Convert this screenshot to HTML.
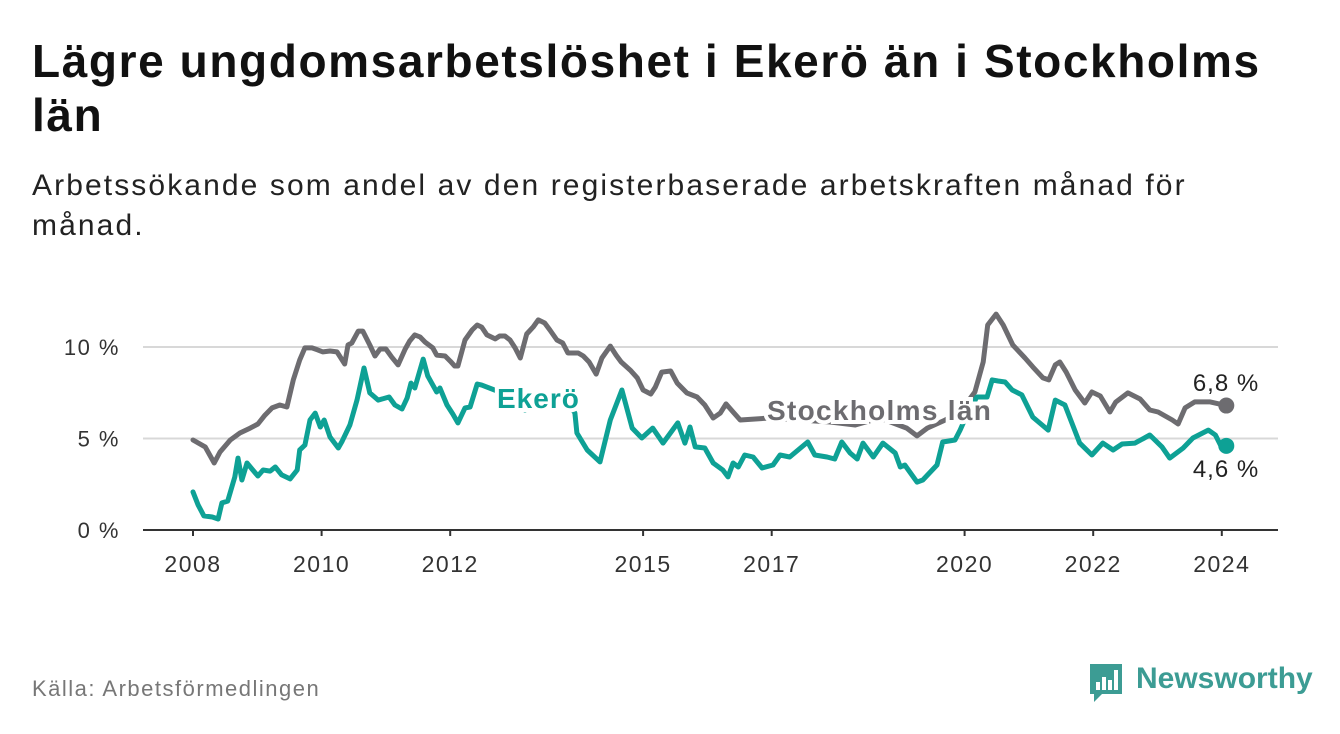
<!DOCTYPE html>
<html><head><meta charset="utf-8">
<style>
body{margin:0;background:#fff;width:1340px;height:734px;overflow:hidden;font-family:"Liberation Sans",sans-serif;}
h1{position:absolute;left:32px;top:34px;margin:0;font-size:46px;letter-spacing:1.6px;line-height:54px;font-weight:bold;color:#111;width:1300px;white-space:nowrap;}
.sub{position:absolute;left:32px;top:166px;font-size:30px;letter-spacing:2.1px;line-height:40px;color:#222;width:1300px;white-space:nowrap;}
.src{position:absolute;left:32px;top:676px;font-size:22px;letter-spacing:1.5px;color:#777;}
</style></head><body>
<h1>Lägre ungdomsarbetslöshet i Ekerö än i Stockholms<br>län</h1>
<div class="sub">Arbetssökande som andel av den registerbaserade arbetskraften månad för<br>månad.</div>
<svg id="chart" width="1340" height="734" style="position:absolute;left:0;top:0"></svg>
<div class="src">Källa: Arbetsförmedlingen</div>
<div style="position:absolute;left:1088px;top:662px;height:40px;">
<svg width="36" height="40" style="position:absolute;left:0;top:0"><path d="M2 2h32v30H14l-8 8v-8H2z" fill="#3c9c94"/><rect x="8" y="20" width="4" height="8" fill="#fff"/><rect x="14" y="15" width="4" height="13" fill="#fff"/><rect x="20" y="18" width="4" height="10" fill="#fff"/><rect x="26" y="8" width="4" height="20" fill="#fff"/></svg>
<span style="position:absolute;left:48px;top:0;font-size:30px;font-weight:bold;color:#3c9c94;white-space:nowrap">Newsworthy</span></div>
<script>
const stockYears=[2008.00,2008.19,2008.33,2008.42,2008.58,2008.73,2008.89,2009.01,2009.12,2009.23,2009.35,2009.46,2009.56,2009.66,2009.74,2009.85,2009.94,2010.02,2010.13,2010.24,2010.36,2010.41,2010.47,2010.57,2010.64,2010.75,2010.83,2010.91,2011.00,2011.09,2011.19,2011.30,2011.37,2011.45,2011.53,2011.61,2011.73,2011.79,2011.92,2012.00,2012.07,2012.12,2012.23,2012.34,2012.42,2012.49,2012.57,2012.70,2012.77,2012.85,2012.93,2013.01,2013.09,2013.19,2013.29,2013.37,2013.47,2013.55,2013.66,2013.75,2013.83,2013.99,2014.07,2014.16,2014.27,2014.36,2014.49,2014.58,2014.66,2014.80,2014.91,2015.00,2015.12,2015.19,2015.29,2015.43,2015.53,2015.68,2015.84,2015.96,2016.09,2016.20,2016.29,2016.40,2016.51,2016.97,2017.44,2017.91,2018.30,2018.68,2019.10,2019.26,2019.42,2019.70,2019.93,2020.16,2020.29,2020.36,2020.49,2020.60,2020.75,2020.94,2021.06,2021.22,2021.31,2021.41,2021.48,2021.58,2021.72,2021.87,2021.98,2022.11,2022.26,2022.35,2022.54,2022.73,2022.88,2023.01,2023.23,2023.32,2023.43,2023.58,2023.82,2024.07];
const stockValues=[4.92,4.54,3.66,4.26,4.92,5.30,5.57,5.79,6.28,6.67,6.83,6.72,8.20,9.29,9.95,9.95,9.84,9.73,9.78,9.73,9.07,10.11,10.22,10.87,10.87,10.11,9.51,9.89,9.89,9.45,9.02,9.89,10.33,10.66,10.55,10.27,9.95,9.56,9.51,9.23,8.96,8.96,10.38,10.93,11.20,11.09,10.66,10.44,10.60,10.60,10.38,9.95,9.40,10.71,11.09,11.48,11.31,10.93,10.38,10.22,9.67,9.67,9.51,9.18,8.52,9.40,10.05,9.56,9.18,8.74,8.31,7.65,7.43,7.81,8.63,8.69,8.03,7.49,7.27,6.83,6.12,6.39,6.89,6.45,6.01,6.12,6.01,5.90,5.74,6.12,5.57,5.14,5.57,6.01,6.45,7.54,9.18,11.20,11.80,11.20,10.11,9.40,8.91,8.31,8.20,9.02,9.18,8.63,7.65,6.94,7.54,7.32,6.45,6.99,7.49,7.16,6.56,6.45,6.01,5.79,6.67,7.00,7.00,6.8];
const ekeroYears=[2008.00,2008.08,2008.17,2008.30,2008.39,2008.45,2008.54,2008.65,2008.70,2008.76,2008.84,2008.93,2009.01,2009.09,2009.20,2009.28,2009.38,2009.51,2009.62,2009.66,2009.74,2009.82,2009.90,2009.98,2010.04,2010.13,2010.26,2010.32,2010.44,2010.55,2010.66,2010.75,2010.88,2011.05,2011.14,2011.25,2011.33,2011.39,2011.45,2011.58,2011.65,2011.79,2011.84,2011.95,2012.04,2012.12,2012.23,2012.31,2012.42,2012.49,2012.77,2013.16,2013.55,2013.86,2013.94,2013.97,2014.13,2014.33,2014.49,2014.67,2014.83,2014.98,2015.15,2015.31,2015.54,2015.65,2015.73,2015.81,2015.96,2016.09,2016.24,2016.32,2016.40,2016.48,2016.58,2016.71,2016.85,2017.02,2017.13,2017.28,2017.56,2017.67,2017.86,2017.98,2018.09,2018.22,2018.33,2018.42,2018.58,2018.73,2018.92,2019.00,2019.07,2019.26,2019.35,2019.57,2019.66,2019.85,2019.93,2019.98,2020.19,2020.35,2020.43,2020.52,2020.63,2020.74,2020.89,2021.06,2021.30,2021.41,2021.56,2021.79,2021.98,2022.15,2022.31,2022.45,2022.65,2022.88,2023.07,2023.19,2023.40,2023.55,2023.79,2023.90,2023.98,2024.07];
const ekeroValues=[2.08,1.37,0.77,0.71,0.60,1.48,1.58,2.90,3.93,2.73,3.66,3.28,2.95,3.28,3.22,3.44,3.01,2.79,3.28,4.37,4.64,6.01,6.39,5.63,6.01,5.08,4.48,4.86,5.74,7.10,8.85,7.49,7.10,7.27,6.83,6.61,7.21,8.03,7.76,9.34,8.42,7.54,7.76,6.83,6.34,5.85,6.67,6.72,7.98,7.92,7.54,6.56,7.10,6.83,6.39,5.30,4.37,3.72,6.01,7.65,5.57,5.03,5.57,4.75,5.85,4.75,5.63,4.54,4.48,3.66,3.28,2.90,3.66,3.44,4.10,3.99,3.39,3.55,4.10,3.99,4.81,4.10,3.99,3.88,4.81,4.21,3.88,4.75,3.99,4.75,4.21,3.44,3.55,2.62,2.73,3.55,4.81,4.92,5.46,5.85,7.27,7.27,8.20,8.14,8.09,7.65,7.38,6.17,5.46,7.10,6.83,4.75,4.10,4.75,4.37,4.70,4.75,5.19,4.54,3.93,4.48,5.03,5.46,5.19,4.64,4.6];
const yTicks=[0,5,10];
const yTickLabels=["0 %","5 %","10 %"];
const xTicks=[2008,2010,2012,2015,2017,2020,2022,2024];
const xTickLabels=["2008","2010","2012","2015","2017","2020","2022","2024"];

const NS="http://www.w3.org/2000/svg";
const svg=document.getElementById('chart');
const xs=y=>193+(y-2008)*64.3;
const ys=v=>530-v*18.3;
function el(t,a,p){const e=document.createElementNS(NS,t);for(const k in a)e.setAttribute(k,a[k]);(p||svg).appendChild(e);return e;}

yTicks.forEach((t,i)=>{
  if(t>0){const g=el('line',{x1:143,x2:1278,y1:ys(t),y2:ys(t),stroke:'#d8d8d8','stroke-width':2});
  
  }
  const l=el('text',{x:120,y:ys(t)+8,'text-anchor':'end','font-size':22,'letter-spacing':1.5,fill:'#333','font-family':'Liberation Sans, sans-serif'});
  
  
  l.textContent=yTickLabels[i];
});
const ax=el('line',{x1:143,x2:1278,y1:530,y2:530,stroke:'#333','stroke-width':2});


xTicks.forEach((t,i)=>{
  const tk=el('line',{x1:xs(t),x2:xs(t),y1:530,y2:536,stroke:'#333','stroke-width':2});
  
  
  const l=el('text',{x:xs(t),y:572,'text-anchor':'middle','font-size':23,'letter-spacing':1.5,fill:'#333','font-family':'Liberation Sans, sans-serif'});
  
  
  l.textContent=xTickLabels[i];
});
function line(xv,yv,color,name){
  const d=xv.map((x,i)=>(i?'L':'M')+xs(x).toFixed(1)+' '+ys(yv[i]).toFixed(1)).join('');
  const p=el('path',{d:d,fill:'none',stroke:color,'stroke-width':5,'stroke-linejoin':'round','stroke-linecap':'round'});
  
  
  const c=el('circle',{cx:xs(xv[xv.length-1]),cy:ys(yv[yv.length-1]),r:8,fill:color});
  
  
}
line(stockYears,stockValues,'#6d6c70','stockholm-line');
line(ekeroYears,ekeroValues,'#0ea195','ekero-line');
function lab(txt,x,y,color,name,bold,anchor,ls){
  const t=el('text',{x:x,y:y,'font-size':bold?28:24,'letter-spacing':ls||0,'font-weight':bold?'bold':'normal',fill:color,stroke:bold?'#fff':'none','stroke-width':bold?8:0,'paint-order':'stroke','text-anchor':anchor||'start','font-family':'Liberation Sans, sans-serif'});
  
  
  t.textContent=txt;
}
lab('Ekerö',497,408,'#0ea195','ekero-label',true,'start',1);
lab('Stockholms län',767,420,'#6d6c70','stockholm-label',true,'start',1.3);
const sl=stockValues[stockValues.length-1], el2=ekeroValues[ekeroValues.length-1];
lab(sl.toFixed(1).replace('.',',')+' %',1226,391,'#222','stockholm-end-value',false,'middle',1);
lab(el2.toFixed(1).replace('.',',')+' %',1226,477,'#222','ekero-end-value',false,'middle',1);
</script>
</body></html>
